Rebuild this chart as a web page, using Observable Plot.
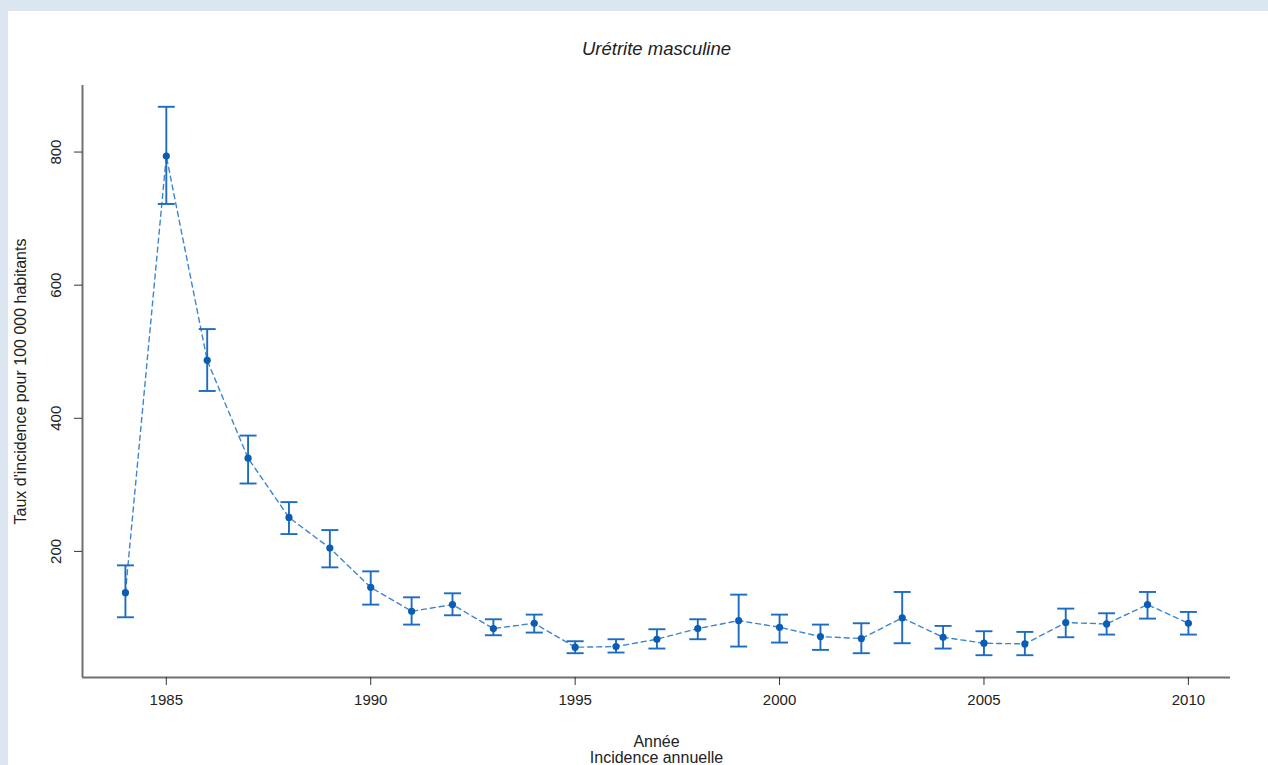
<!DOCTYPE html>
<html>
<head>
<meta charset="utf-8">
<script src="https://cdn.jsdelivr.net/npm/d3@7"></script>
<script src="https://cdn.jsdelivr.net/npm/@observablehq/plot@0.6"></script>
<style>
  html, body { margin: 0; padding: 0; background: #dce6f1; width: 1268px; height: 765px; overflow: hidden; }
  #panel { position: absolute; left: 8px; top: 11px; width: 1260px; height: 754px; background: #fff; }
  #panel svg { position: absolute; left: 0; top: 0; }
</style>
</head>
<body>
<div id="panel"></div>
<script>
const years = [1984,1985,1986,1987,1988,1989,1990,1991,1992,1993,1994,1995,1996,1997,1998,1999,2000,2001,2002,2003,2004,2005,2006,2007,2008,2009,2010];
const rate  = [138,794,487,340,251,205,146,110,120,84,92,56,57,68,84,96,86,72,69,100,71,62,61,93,91,120,92];
const upper = [179,868,534,374,274,232,170,131,137,98,105,65,68,83,98,135,105,90,92,139,88,80,79,114,107,139,109];
const lower = [101,722,441,302,226,176,120,90,104,74,78,47,48,54,68,57,63,52,47,62,54,44,44,71,75,99,75];
const xTicks = [1985,1990,1995,2000,2005,2010];
const yTicks = [200,400,600,800];
const titleText = "Urétrite masculine";
const yLabel = "Taux d'incidence pour 100 000 habitants";
const xLabel1 = "Année";
const xLabel2 = "Incidence annuelle";

const data = years.map((y, i) => ({year: y, rate: rate[i], hi: upper[i], lo: lower[i]}));

const cap = { draw(ctx) { ctx.moveTo(-8.5, 0); ctx.lineTo(8.5, 0); } };

const font = "'Liberation Sans', Arial, sans-serif";
const barColor = "#1d6cc0";
const dotColor = "#0b5cb3";
const lineColor = "#3d86cf";

const chart = Plot.plot({
  width: 1260,
  height: 754,
  marginLeft: 74,
  marginTop: 74,
  marginRight: 38,
  marginBottom: 88,
  style: { fontFamily: font, fontSize: "15px", color: "#222", background: "transparent", overflow: "visible" },
  x: { domain: [1982.95, 2011.03] },
  y: { domain: [10.5, 900] },
  marks: [
    Plot.ruleX([1982.95], { stroke: "#707070", strokeWidth: 2 }),
    Plot.ruleY([10.5], { stroke: "#707070", strokeWidth: 2 }),
    Plot.axisX({ ticks: xTicks, tickFormat: d => String(d), tickSize: 8, tickPadding: 9, stroke: "#333", label: null, fontSize: 15 }),
    Plot.axisY({ ticks: yTicks, tickFormat: d => String(d), tickSize: 8, tickPadding: 14, tickRotate: -90, stroke: "#333", label: null, fontSize: 15 }),
    Plot.line(data, { x: "year", y: "rate", stroke: lineColor, strokeWidth: 1.4, strokeDasharray: "5,4" }),
    Plot.link(data, { x1: "year", x2: "year", y1: "lo", y2: "hi", stroke: barColor, strokeWidth: 1.9 }),
    Plot.dot(data, { x: "year", y: "hi", symbol: cap, r: 5, stroke: barColor, strokeWidth: 1.9 }),
    Plot.dot(data, { x: "year", y: "lo", symbol: cap, r: 5, stroke: barColor, strokeWidth: 1.9 }),
    Plot.dot(data, { x: "year", y: "rate", r: 3.6, fill: dotColor, stroke: null }),
    Plot.text([titleText], { frameAnchor: "top", lineAnchor: "middle", dy: -36.5, fontSize: 18.5, fontStyle: "italic", fill: "#222" }),
    Plot.text([yLabel], { frameAnchor: "left", textAnchor: "middle", lineAnchor: "middle", dx: -62, rotate: -90, fontSize: 16, fill: "#222" }),
    Plot.text([xLabel1], { frameAnchor: "bottom", lineAnchor: "middle", dy: 64, fontSize: 16, fill: "#222" }),
    Plot.text([xLabel2], { frameAnchor: "bottom", lineAnchor: "middle", dy: 80, fontSize: 16, fill: "#222" })
  ]
});
document.getElementById("panel").appendChild(chart);
</script>
</body>
</html>
